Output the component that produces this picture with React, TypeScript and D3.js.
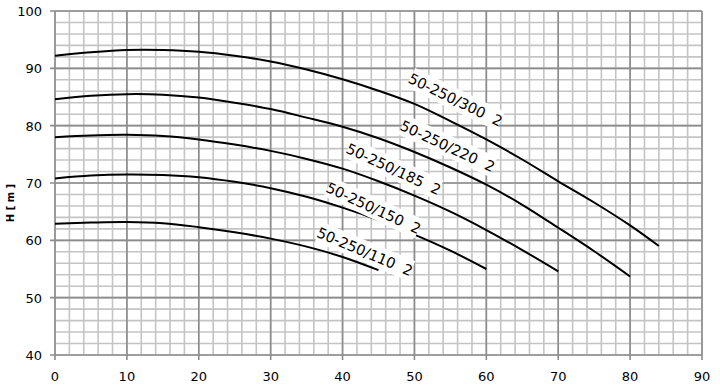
import React from "react";
import * as d3 from "d3";

const xTicks = [0, 10, 20, 30, 40, 50, 60, 70, 80, 90];
const yTicks = [40, 50, 60, 70, 80, 90, 100];

const q300 = [0, 5, 10, 15, 20, 25, 30, 35, 40, 45, 50, 55, 60, 65, 70, 75, 80, 84];
const h300 = [92.2, 92.8, 93.2, 93.2, 92.9, 92.2, 91.2, 89.8, 88.1, 86.1, 83.8, 80.8, 77.6, 74.1, 70.3, 66.6, 62.6, 59.0];
const q220 = [0, 5, 10, 15, 20, 25, 30, 35, 40, 45, 50, 55, 60, 65, 70, 75, 80];
const h220 = [84.6, 85.2, 85.5, 85.4, 84.9, 84.0, 82.9, 81.4, 79.8, 77.8, 75.4, 72.7, 69.7, 66.2, 62.2, 58.1, 53.7];
const q185 = [0, 5, 10, 15, 20, 25, 30, 35, 40, 45, 50, 55, 60, 65, 70];
const h185 = [78.0, 78.3, 78.4, 78.2, 77.6, 76.7, 75.6, 74.2, 72.5, 70.3, 67.8, 65.0, 61.8, 58.3, 54.6];
const q150 = [0, 5, 10, 15, 20, 25, 30, 35, 40, 45, 50, 55, 60];
const h150 = [70.8, 71.3, 71.5, 71.4, 71.0, 70.2, 69.1, 67.6, 65.7, 63.5, 61.0, 58.2, 55.0];
const q110 = [0, 5, 10, 15, 20, 25, 30, 35, 40, 45];
const h110 = [62.9, 63.1, 63.2, 63.0, 62.3, 61.4, 60.3, 58.9, 57.1, 54.8];

const seriesNames = ["50-250/300  2", "50-250/220  2", "50-250/185  2", "50-250/150  2", "50-250/110  2"];
const seriesQ = [q300, q220, q185, q150, q110];
const seriesH = [h300, h220, h185, h150, h110];
// label anchor positions in data units and rotation angle
const labelQ = [55.7, 54.6, 47.1, 44.3, 43.1];
const labelH = [84.5, 76.4, 72.4, 65.6, 58.0];
const labelAngle = [26, 25, 25, 25, 23];

const W = 720, H = 388;
const left = 55, right = 702, top = 11, bottom = 355;

export default function App() {
  const x = d3.scaleLinear().domain([0, 90]).range([left, right]);
  const y = d3.scaleLinear().domain([40, 100]).range([bottom, top]);
  const minorX = d3.range(0, 91, 2);
  const minorY = d3.range(40, 101, 2);
  const line = d3
    .line<[number, number]>()
    .x((d) => x(d[0]))
    .y((d) => y(d[1]))
    .curve(d3.curveCatmullRom.alpha(0.5));
  const font = "Verdana, 'DejaVu Sans', sans-serif";
  return (
    <svg width={W} height={H} style={{ position: "absolute", left: 0, top: 0, background: "#fff" }}>
      <rect x={0} y={0} width={W} height={H} fill="#fff" />
      {minorX.map((v) => (
        <line key={"mx" + v} x1={x(v)} x2={x(v)} y1={top} y2={bottom} stroke="#c4c4c4" strokeWidth={1.6} />
      ))}
      {minorY.map((v) => (
        <line key={"my" + v} x1={left} x2={right} y1={y(v)} y2={y(v)} stroke="#c4c4c4" strokeWidth={1.6} />
      ))}
      {xTicks.map((v) => (
        <line key={"Mx" + v} x1={x(v)} x2={x(v)} y1={top} y2={bottom + 5} stroke="#8c8c8c" strokeWidth={1.6} />
      ))}
      {yTicks.map((v) => (
        <line key={"My" + v} x1={left - 5} x2={right} y1={y(v)} y2={y(v)} stroke="#8c8c8c" strokeWidth={1.6} />
      ))}
      {seriesQ.map((qs, i) => (
        <path
          key={"s" + i}
          d={line(qs.map((q, j) => [q, seriesH[i][j]] as [number, number])) || ""}
          fill="none"
          stroke="#000"
          strokeWidth={2}
        />
      ))}
      {seriesNames.map((name, i) => (
        <g key={"l" + i} transform={`translate(${x(labelQ[i])},${y(labelH[i])}) rotate(${labelAngle[i]})`}>
          <rect x={-50} y={-11} width={100} height={21} fill="#fff" />
          <text x={0} y={5} textAnchor="middle" fontFamily={font} fontSize={14.5} fill="#000" style={{ whiteSpace: "pre" }}>
            {name}
          </text>
        </g>
      ))}
      {yTicks.map((v) => (
        <text key={"yl" + v} x={42} y={y(v) + 5} textAnchor="end" fontFamily={font} fontSize={13} fill="#000">
          {v}
        </text>
      ))}
      {xTicks.map((v) => (
        <text key={"xl" + v} x={x(v)} y={381} textAnchor="middle" fontFamily={font} fontSize={13} fill="#000">
          {v}
        </text>
      ))}
      <text
        transform={`translate(14,${(top + bottom) / 2 + 20}) rotate(-90)`}
        textAnchor="middle"
        fontFamily={font}
        fontSize={10}
        fontWeight="bold"
        fill="#000"
      >
        H [ m ]
      </text>
    </svg>
  );
}
